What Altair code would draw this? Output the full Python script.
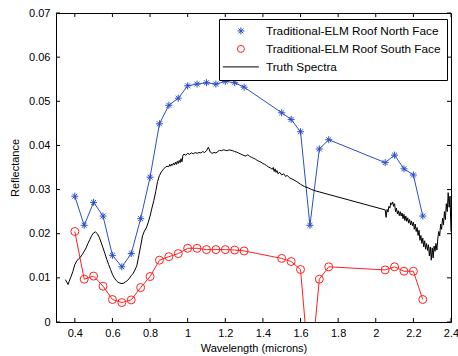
import altair as alt
import pandas as pd

# ---------------- data ----------------
north_wl = [0.40, 0.45, 0.50, 0.55, 0.60, 0.65, 0.70, 0.75, 0.80, 0.85, 0.90, 0.95,
            1.00, 1.05, 1.10, 1.15, 1.20, 1.25, 1.30, 1.50, 1.55, 1.60, 1.65, 1.70,
            1.75, 2.05, 2.10, 2.15, 2.20, 2.25]
north_val = [0.0285, 0.0219, 0.0271, 0.0240, 0.0151, 0.0125, 0.0155, 0.0234, 0.0328,
             0.0449, 0.0491, 0.0507, 0.0535, 0.0539, 0.0542, 0.0539, 0.0545, 0.0542,
             0.0532, 0.0474, 0.0459, 0.0431, 0.0219, 0.0392, 0.0413, 0.0361, 0.0378,
             0.0347, 0.0333, 0.0240]

south_wl = north_wl
south_val = [0.0205, 0.0097, 0.0104, 0.0081, 0.0051, 0.0044, 0.0050, 0.0078, 0.0103,
             0.0140, 0.0148, 0.0155, 0.0167, 0.0167, 0.0164, 0.0164, 0.0164, 0.0163,
             0.0161, 0.0144, 0.0137, 0.0119, -0.0130, 0.0097, 0.0125, 0.0118, 0.0125,
             0.0115, 0.0115, 0.0051]

truth_wl = [0.350, 0.358, 0.364, 0.370, 0.380, 0.390, 0.400, 0.410, 0.420, 0.430,
            0.440, 0.450, 0.460, 0.470, 0.480, 0.490, 0.500, 0.510, 0.520, 0.530,
            0.540, 0.550, 0.560, 0.570, 0.580, 0.590, 0.600, 0.610, 0.620, 0.630,
            0.640, 0.650, 0.660, 0.670, 0.680, 0.690, 0.700, 0.710, 0.720, 0.730,
            0.740, 0.750, 0.760, 0.770, 0.780, 0.790, 0.800, 0.810, 0.820, 0.830,
            0.840, 0.850, 0.860, 0.870, 0.880, 0.890, 0.900, 0.905, 0.910, 0.915,
            0.920, 0.925, 0.930, 0.935, 0.940, 0.945, 0.950, 0.955, 0.960, 0.965,
            0.970, 0.975, 0.980, 0.990, 1.000, 1.010, 1.020, 1.030, 1.040, 1.050,
            1.060, 1.070, 1.080, 1.090, 1.100, 1.110, 1.120, 1.130, 1.140, 1.150,
            1.160, 1.170, 1.180, 1.190, 1.200, 1.210, 1.220, 1.230, 1.240, 1.250,
            1.260, 1.270, 1.280, 1.290, 1.300, 1.310, 1.320, 1.330, 1.340, 1.350,
            1.360, 1.370, 1.380, 1.390, 1.400, 1.410, 1.420, 1.430, 1.440, 1.450,
            1.455, 1.460, 1.465, 1.470, 1.475, 1.480, 1.490, 1.500, 1.510, 1.520,
            1.530, 1.540, 1.550, 1.560, 1.580, 1.600, 1.620, 1.640, 1.660, 1.680,
            2.050, 2.055, 2.060, 2.065, 2.070, 2.075, 2.080, 2.085, 2.090, 2.095,
            2.100, 2.105, 2.110, 2.115, 2.120, 2.125, 2.130, 2.135, 2.140, 2.145,
            2.150, 2.155, 2.160, 2.165, 2.170, 2.175, 2.180, 2.185, 2.190, 2.195,
            2.200, 2.205, 2.210, 2.215, 2.220, 2.225, 2.230, 2.235, 2.240, 2.245,
            2.250, 2.255, 2.260, 2.265, 2.270, 2.275, 2.280, 2.285, 2.290, 2.295,
            2.300, 2.305, 2.310, 2.315, 2.320, 2.325, 2.330, 2.335, 2.340, 2.345,
            2.350, 2.355, 2.360, 2.365, 2.370, 2.375, 2.380, 2.385, 2.390, 2.395,
            2.400]
truth_val = [0.0096, 0.0090, 0.0085, 0.0092, 0.0103, 0.0115, 0.0130, 0.0138, 0.0143, 0.0147,
             0.0153, 0.0160, 0.0168, 0.0178, 0.0187, 0.0196, 0.0202, 0.0204, 0.0200, 0.0192,
             0.0180, 0.0168, 0.0155, 0.0142, 0.0130, 0.0119, 0.0108, 0.0100, 0.0094, 0.0090,
             0.0088, 0.0087, 0.0088, 0.0091, 0.0094, 0.0099, 0.0105, 0.0110, 0.0118, 0.0128,
             0.0150, 0.0172, 0.0195, 0.0206, 0.0213, 0.0225, 0.0240, 0.0258, 0.0275, 0.0295,
             0.0318, 0.0332, 0.0340, 0.0346, 0.0350, 0.0353, 0.0352, 0.0357, 0.0353, 0.0358,
             0.0355, 0.0360, 0.0356, 0.0362, 0.0357, 0.0364, 0.0359, 0.0366, 0.0361, 0.0370,
             0.0363, 0.0378, 0.0380, 0.0378, 0.0382, 0.0380, 0.0383, 0.0381, 0.0384, 0.0382,
             0.0384, 0.0383, 0.0386, 0.0384, 0.0388, 0.0396, 0.0385, 0.0382, 0.0384, 0.0383,
             0.0386, 0.0389, 0.0388, 0.0390, 0.0389, 0.0388, 0.0390, 0.0389, 0.0388, 0.0386,
             0.0385, 0.0383, 0.0381, 0.0379, 0.0377, 0.0376, 0.0379, 0.0375, 0.0373, 0.0371,
             0.0369, 0.0366, 0.0364, 0.0362, 0.0359, 0.0357, 0.0354, 0.0351, 0.0349, 0.0346,
             0.0350, 0.0341, 0.0347, 0.0339, 0.0343, 0.0336, 0.0339, 0.0333, 0.0336, 0.0330,
             0.0332, 0.0327, 0.0325, 0.0323, 0.0318, 0.0312, 0.0307, 0.0304, 0.0300, 0.0297,
             0.0254, 0.0237, 0.0255, 0.0249, 0.0262, 0.0258, 0.0270, 0.0266, 0.0272, 0.0262,
             0.0268, 0.0250, 0.0258, 0.0245, 0.0252, 0.0241, 0.0250, 0.0240, 0.0247, 0.0234,
             0.0244, 0.0230, 0.0240, 0.0228, 0.0236, 0.0224, 0.0232, 0.0220, 0.0229, 0.0218,
             0.0226, 0.0210, 0.0222, 0.0205, 0.0214, 0.0196, 0.0208, 0.0185, 0.0196, 0.0178,
             0.0190, 0.0170, 0.0184, 0.0165, 0.0178, 0.0162, 0.0175, 0.0150, 0.0170, 0.0140,
             0.0168, 0.0145, 0.0172, 0.0160, 0.0178, 0.0163, 0.0190, 0.0205, 0.0195, 0.0222,
             0.0210, 0.0235, 0.0220, 0.0250, 0.0232, 0.0268, 0.0250, 0.0293, 0.0260, 0.0285,
             0.0205]

series_names = ["Traditional-ELM Roof North Face", "Traditional-ELM Roof South Face", "Truth Spectra"]
series_colors = ["#2b4fc7", "#ff2020", "#000000"]

xticks = [0.4, 0.6, 0.8, 1.0, 1.2, 1.4, 1.6, 1.8, 2.0, 2.2, 2.4]
yticks = [0.0, 0.01, 0.02, 0.03, 0.04, 0.05, 0.06, 0.07]

# ---------------- tables ----------------
north = pd.DataFrame({"wl": north_wl, "val": north_val})
south = pd.DataFrame({"wl": south_wl, "val": south_val})
truth = pd.DataFrame({"wl": truth_wl, "val": truth_val})
legend_df = pd.DataFrame({"series": series_names,
                          "wl": [north_wl[0], south_wl[0], truth_wl[0]],
                          "val": [north_val[0], south_val[0], truth_val[0]]})
xt = pd.DataFrame({"wl": xticks})
yt = pd.DataFrame({"val": yticks})

W, H = 395, 309
FONT = "Liberation Sans"

xscale = alt.Scale(domain=[0.3, 2.4], nice=False, zero=False)
yscale = alt.Scale(domain=[0, 0.07], nice=False, zero=False)

xaxis = alt.Axis(values=xticks, title="Wavelength (microns)", format="~g")
yaxis = alt.Axis(values=yticks, title="Reflectance", format="~g")

ASTERISK = "M-1,0L1,0M0,-1L0,1M-0.7,-0.7L0.7,0.7M-0.7,0.7L0.7,-0.7"
LEG_LINE = "M-5.14,0L5.14,0"

def X():
    return alt.X("wl:Q", scale=xscale, axis=xaxis)

def Y():
    return alt.Y("val:Q", scale=yscale, axis=yaxis)

north_line = alt.Chart(north).mark_line(color=series_colors[0], strokeWidth=1, clip=True).encode(x=X(), y=Y())
north_pts = alt.Chart(north).mark_point(shape=ASTERISK, size=49, filled=False, color=series_colors[0],
                                         strokeWidth=1, opacity=1, clip=True).encode(x=X(), y=Y())
south_line = alt.Chart(south).mark_line(color=series_colors[1], strokeWidth=1, clip=True).encode(x=X(), y=Y())
south_pts = alt.Chart(south).mark_point(shape="circle", size=64, filled=False, color=series_colors[1],
                                         strokeWidth=1, opacity=1, clip=True).encode(x=X(), y=Y())
truth_line = alt.Chart(truth).mark_line(color="black", strokeWidth=1, clip=True).encode(x=X(), y=Y())

leg = alt.Legend(title=None, orient="none", legendX=163, legendY=6, direction="vertical",
                 strokeColor="black", fillColor="white", padding=6, cornerRadius=0,
                 rowPadding=5, symbolOffset=10, labelOffset=19.1, symbolSize=49,
                 symbolStrokeWidth=1, symbolOpacity=1, labelFont=FONT, labelFontSize=11.8,
                 labelColor="black", labelLimit=400)
legend_layer = alt.Chart(legend_df).mark_point(filled=False, opacity=0, size=49).encode(
    x=X(), y=Y(),
    color=alt.Color("series:N", scale=alt.Scale(domain=series_names, range=series_colors), legend=leg),
    shape=alt.Shape("series:N", scale=alt.Scale(domain=series_names, range=[ASTERISK, "circle", LEG_LINE]), legend=leg),
)

tick_len = 4
xt_bottom = alt.Chart(xt).mark_rule(color="black", strokeWidth=1).encode(
    x=X(), y=alt.value(H), y2=alt.value(H - tick_len))
xt_top = alt.Chart(xt).mark_rule(color="black", strokeWidth=1).encode(
    x=X(), y=alt.value(0), y2=alt.value(tick_len))
yt_left = alt.Chart(yt).mark_rule(color="black", strokeWidth=1).encode(
    y=Y(), x=alt.value(0), x2=alt.value(tick_len))
yt_right = alt.Chart(yt).mark_rule(color="black", strokeWidth=1).encode(
    y=Y(), x=alt.value(W), x2=alt.value(W - tick_len))

chart = alt.layer(
    north_line, north_pts, south_line, south_pts, truth_line,
    xt_bottom, xt_top, yt_left, yt_right, legend_layer
).properties(
    width=W, height=H,
    autosize=alt.AutoSizeParams(type="none"),
    padding={"left": 56, "top": 13, "right": 7, "bottom": 34},
    background="white",
).configure_view(
    stroke="black", strokeWidth=1
).configure_axis(
    ticks=False, domain=False, grid=False, labelFontSize=11, titleFontSize=11,
    labelFont=FONT, titleFont=FONT, labelColor="black", titleColor="black",
    titleFontWeight="normal", labelFlush=False
).configure_axisX(
    labelPadding=5, titlePadding=4
).configure_axisY(
    labelPadding=6, titlePadding=8
)

chart.save("out.html", embed_options={"renderer": "svg", "actions": False})
